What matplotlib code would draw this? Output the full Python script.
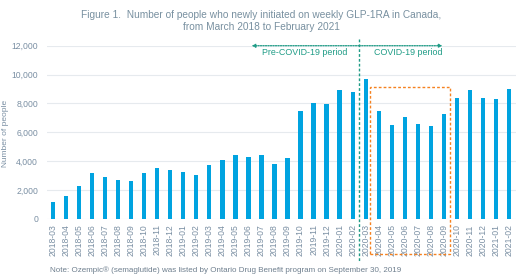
import matplotlib
matplotlib.use("Agg")
import matplotlib.pyplot as plt
import matplotlib.transforms as mtransforms
from matplotlib.patches import Rectangle

months = ["2018-03","2018-04","2018-05","2018-06","2018-07","2018-08","2018-09","2018-10",
          "2018-11","2018-12","2019-01","2019-02","2019-03","2019-04","2019-05","2019-06",
          "2019-07","2019-08","2019-09","2019-10","2019-11","2019-12","2020-01","2020-02",
          "2020-03","2020-04","2020-05","2020-06","2020-07","2020-08","2020-09","2020-10",
          "2020-11","2020-12","2021-01","2021-02"]
people = [1150, 1550, 2300, 3200, 2900, 2700, 2600, 3200,
          3500, 3350, 3250, 3050, 3700, 4050, 4450, 4300,
          4400, 3800, 4200, 7500, 8000, 7950, 8900, 8800,
          9700, 7450, 6500, 7050, 6600, 6450, 7250, 8400,
          8950, 8400, 8300, 9000]
yticks = [0, 2000, 4000, 6000, 8000, 10000, 12000]

plt.rcParams['font.family'] = ['Liberation Sans', 'DejaVu Sans']
txt = '#7A8FA3'
bar_c = '#00A3E0'
green = '#1F9C86'
orange = '#F58220'

fig = plt.figure(figsize=(5.2, 2.78), dpi=100)
ax = fig.add_axes([46.5/520, 1-218.7/278, (515.5-46.5)/520, 173/278])
x = list(range(len(months)))
ax.bar(x, people, width=0.33, color=bar_c, zorder=2)
ax.set_xlim(-0.5, len(months)-0.5)
ax.set_ylim(0, 12000)
ax.set_yticks(yticks)
ax.set_yticklabels([f"{v:,}" for v in yticks])
ax.set_xticks(x)
ax.set_xticklabels(months, rotation=90)
ax.tick_params(axis='both', length=0, labelsize=6.2, colors=txt)
ax.tick_params(axis='y', pad=6)
ax.tick_params(axis='x', pad=4)
ax.grid(axis='y', color='#E6EAEE', linewidth=0.8, zorder=0)
for s in ax.spines.values():
    s.set_visible(False)
ax.set_ylabel("Number of people", fontsize=6, color=txt)
ax.yaxis.set_label_coords((9 - 46.5) / 469, (218.7 - 133) / 173)

fig.text(0.503, 1-9.5/278, "Figure 1.  Number of people who newly initiated on weekly GLP-1RA in Canada,\nfrom March 2018 to February 2021",
         ha='center', va='top', fontsize=7.3, color='#7890A0', linespacing=1.25)
fig.text(50.5/520, 1-270/278, "Note: Ozempic\u00ae (semaglutide) was listed by Ontario Drug Benefit program on September 30, 2019",
         ha='left', va='center', fontsize=5.8, color='#6E7F8E')

trans = mtransforms.blended_transform_factory(ax.transData, ax.transAxes)
ax.plot([23.5, 23.5], [1.04, -0.25], transform=trans, color=green, linestyle=(0, (2, 1.5)),
        linewidth=1.0, clip_on=False, zorder=3)
ax.annotate("", xy=(15.25, 12000), xytext=(23.5, 12000),
            arrowprops=dict(arrowstyle='-|>', color=green, linestyle=(0, (1, 1)), lw=0.9,
                            mutation_scale=5, shrinkA=0, shrinkB=0), annotation_clip=False)
ax.annotate("", xy=(29.9, 12000), xytext=(23.5, 12000),
            arrowprops=dict(arrowstyle='-|>', color=green, linestyle=(0, (1, 1)), lw=0.9,
                            mutation_scale=5, shrinkA=0, shrinkB=0), annotation_clip=False)
ax.text(19.3, 11500, "Pre-COVID-19 period", ha='center', va='center', fontsize=6.4, color=green)
ax.text(27.3, 11500, "COVID-19 period", ha='center', va='center', fontsize=6.4, color=green)

y_top = 9150/12000
y_bot = -0.206
rect = Rectangle((24.35, y_bot), 30.5-24.35, y_top-y_bot, transform=trans, fill=False,
                 edgecolor=orange, linestyle=(0, (2, 1.5)), linewidth=1.0, clip_on=False, zorder=3)
ax.add_patch(rect)

fig.savefig("out.png", dpi=100)
